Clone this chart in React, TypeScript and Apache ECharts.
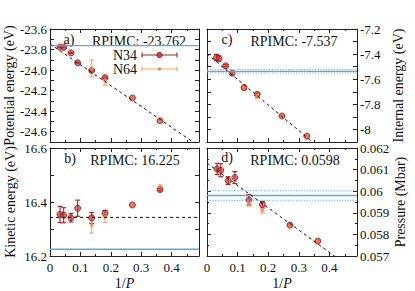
import React, { useEffect, useRef } from 'react';
import * as echarts from 'echarts';

// ---- data ----
const invP = [0.033, 0.045, 0.069, 0.091, 0.137, 0.181, 0.271, 0.362];
const invP64 = [0.137, 0.181, 0.271, 0.362];
// panel c points sit slightly further left in the reference
const invPc = [0.031, 0.039, 0.061, 0.082, 0.121, 0.164, 0.245, 0.326];
const invPc64 = [0.121, 0.164, 0.245, 0.326];

const potN34 = [-23.775, -23.779, -23.832, -23.929, -24.003, -24.074, -24.271, -24.494];
const potN34Err = [0.006, 0.006, 0.005, 0.005, 0.005, 0.005, 0.004, 0.004];
const potN64 = [-23.985, -24.1, -24.275, -24.497];
const potN64Err = [0.083, 0.047, 0.006, 0.006];
const potRef = -23.762;
const potFit = [[0, -23.745], [0.49, -24.74]];

const kinN34 = [16.354, 16.351, 16.342, 16.377, 16.341, 16.359, 16.389, 16.446];
const kinN34Err = [0.03, 0.028, 0.016, 0.03, 0.02, 0.01, 0.005, 0.005];
const kinN64 = [16.315, 16.345, 16.389, 16.458];
const kinN64Err = [0.03, 0.02, 0.005, 0.005];
const kinRef = 16.225;
const kinFit = [[0, 16.343], [0.49, 16.343]];

const intN34 = [-7.427, -7.435, -7.493, -7.552, -7.667, -7.72, -7.893, -8.053];
const intN34Err = [0.025, 0.02, 0.01, 0.015, 0.01, 0.01, 0.005, 0.005];
const intN64 = [-7.667, -7.733, -7.893, -8.053];
const intN64Err = [0.02, 0.02, 0.005, 0.005];
const intRef = -7.537;
const intRefErr = 0.013;
const intFit = [[0, -7.398], [0.49, -8.396]];

const preN34 = [0.06103, 0.06097, 0.06049, 0.06063, 0.0596, 0.05938, 0.05843, 0.05769];
const preN34Err = [0.00026, 0.0003, 0.00018, 0.00028, 0.00024, 0.00015, 0.00005, 0.00005];
const preN64 = [0.05946, 0.05912, 0.05843, 0.05768];
const preN64Err = [0.00015, 0.00013, 0.00004, 0.00004];
const preRef = 0.0598;
const preRefErr = 0.00022;
const preFit = [[0, 0.0613], [0.49, 0.056233]];

const X_MAX = 0.49;

// ---- styles ----
const FONT = 'Liberation Serif';
const TXT = '#111';
const AX = '#222';
const RED = '#a82020';
const RED_FILL = 'rgba(196,58,58,0.85)';
const ORANGE = '#f7a274';
const ORANGE_FILL = '#f28a52';
const BLUE = '#5aa6f2';

const grids = [
  { left: 50, top: 29, width: 149, height: 113 }, // a
  { left: 50, top: 148, width: 149, height: 113 }, // b
  { left: 207, top: 29, width: 150, height: 113 }, // c
  { left: 207, top: 148, width: 150, height: 113 }, // d
];

function mkX(grid: number, labeled: boolean, top: boolean) {
  return {
    type: 'value',
    gridIndex: grid,
    min: 0,
    max: X_MAX,
    interval: 0.1,
    position: top ? 'top' : 'bottom',
    axisLine: { show: true, onZero: false, lineStyle: { color: AX, width: 1 } },
    axisTick: { show: true, inside: true, length: 4, lineStyle: { color: AX } },
    minorTick: { show: true, splitNumber: 2, length: 2, lineStyle: { color: AX } },
    splitLine: { show: false },
    axisLabel: {
      show: labeled && !top,
      fontFamily: FONT,
      fontSize: 13,
      color: TXT,
      margin: 5,
      formatter: (v: number) => (v > 0.45 ? '' : String(+v.toFixed(1))),
    },
    name: labeled && !top ? '1/{i|P}' : '',
    nameLocation: 'middle',
    nameGap: 20,
    nameTextStyle: {
      fontFamily: FONT,
      fontSize: 14,
      color: TXT,
      rich: { i: { fontFamily: FONT, fontSize: 14, fontStyle: 'italic', color: TXT } },
    },
  };
}

function mkY(grid: number, side: 'left' | 'right', labeled: boolean, cfg: any) {
  return {
    type: 'value',
    gridIndex: grid,
    min: cfg.min,
    max: cfg.max,
    interval: cfg.interval,
    position: side,
    axisLine: { show: true, onZero: false, lineStyle: { color: AX, width: 1 } },
    axisTick: { show: true, inside: true, length: 4, lineStyle: { color: AX } },
    minorTick: { show: !!cfg.minor, splitNumber: 2, length: 2, lineStyle: { color: AX } },
    splitLine: { show: false },
    axisLabel: {
      show: labeled,
      fontFamily: FONT,
      fontSize: 13,
      color: TXT,
      margin: 3,
      formatter: cfg.fmt,
    },
    name: labeled ? cfg.name : '',
    nameLocation: 'middle',
    nameGap: cfg.nameGap,
    nameTextStyle: { fontFamily: FONT, fontSize: 14, color: TXT },
  };
}

const evenTenth = (digits: boolean) => (v: number) => {
  const k = Math.round(v * 10);
  if (Math.abs(k % 2) !== 0) return '';
  return digits ? v.toFixed(1) : String(+v.toFixed(1));
};

const yCfgs = [
  { min: -24.7, max: -23.6, interval: 0.1, fmt: evenTenth(true), name: 'Potential energy (eV)', nameGap: 33, side: 'left' },
  { min: 16.2, max: 16.6, interval: 0.1, fmt: evenTenth(true), name: 'Kinetic energy (eV)', nameGap: 33, side: 'left' },
  { min: -8.1, max: -7.2, interval: 0.1, fmt: evenTenth(false), name: 'Internal energy (eV)', nameGap: 34, side: 'right' },
  { min: 0.057, max: 0.062, interval: 0.001, minor: true, fmt: (v: number) => String(+v.toFixed(3)), name: 'Pressure (Mbar)', nameGap: 34, side: 'right' },
];

const errRender = (color: string) => (params: any, api: any) => {
  const x = api.value(0);
  const y = api.value(1);
  const e = api.value(2);
  const p0 = api.coord([x, y - e]);
  const p1 = api.coord([x, y + e]);
  const w = 2.5;
  const style = { stroke: color, lineWidth: 1.1 };
  return {
    type: 'group',
    children: [
      { type: 'line', shape: { x1: p0[0], y1: p0[1], x2: p1[0], y2: p1[1] }, style },
      { type: 'line', shape: { x1: p0[0] - w, y1: p0[1], x2: p0[0] + w, y2: p0[1] }, style },
      { type: 'line', shape: { x1: p1[0] - w, y1: p1[1], x2: p1[0] + w, y2: p1[1] }, style },
    ],
  };
};

function panelSeries(
  g: number,
  xs: number[],
  xs64: number[],
  n34: number[],
  n34e: number[],
  n64: number[],
  n64e: number[],
  ref: number,
  refErr: number | null,
  fit: number[][]
) {
  const ax = { xAxisIndex: 2 * g, yAxisIndex: 2 * g };
  const s: any[] = [];
  if (refErr !== null) {
    [ref + refErr, ref - refErr].forEach((v) =>
      s.push({
        type: 'line', ...ax, silent: true, symbol: 'none',
        data: [[0, v], [X_MAX, v]],
        lineStyle: { color: BLUE, width: 1, type: [1.2, 1.5] },
      })
    );
  }
  s.push({
    type: 'line', ...ax, silent: true, symbol: 'none',
    data: [[0, ref], [X_MAX, ref]],
    lineStyle: { color: BLUE, width: 1.3 },
  });
  s.push({
    type: 'line', ...ax, silent: true, symbol: 'none', clip: true,
    data: fit,
    lineStyle: { color: '#111', width: 1, type: [3, 3] },
  });
  s.push({
    type: 'custom', ...ax, silent: true, clip: true,
    renderItem: errRender(RED),
    encode: { x: 0, y: 1 },
    data: xs.map((x, i) => [x, n34[i], n34e[i]]),
  });
  s.push({
    type: 'scatter', ...ax, silent: true,
    symbol: 'circle', symbolSize: 6,
    itemStyle: { color: RED_FILL, borderColor: '#8a1515', borderWidth: 1 },
    data: xs.map((x, i) => [x, n34[i]]),
  });
  s.push({
    type: 'custom', ...ax, silent: true, clip: true,
    renderItem: errRender(ORANGE),
    encode: { x: 0, y: 1 },
    data: xs64.map((x, i) => [x, n64[i], n64e[i]]),
  });
  s.push({
    type: 'scatter', ...ax, silent: true,
    symbol: 'circle', symbolSize: 4,
    itemStyle: { color: ORANGE_FILL },
    data: xs64.map((x, i) => [x, n64[i]]),
  });
  return s;
}

const txt = (x: number, y: number, text: string, align = 'center') => ({
  type: 'text',
  x,
  y,
  style: { text, fontFamily: FONT, fontSize: 14, fill: TXT, textAlign: align, textVerticalAlign: 'middle' },
  silent: true,
});

export default function App() {
  const ref = useRef<HTMLDivElement>(null);
  useEffect(() => {
    if (!ref.current) return;
    const chart = echarts.init(ref.current, undefined, { renderer: 'svg' });
    const xAxis: any[] = [];
    const yAxis: any[] = [];
    for (let g = 0; g < 4; g++) {
      const bottomRow = g === 1 || g === 3;
      xAxis.push(mkX(g, bottomRow, false));
      xAxis.push(mkX(g, false, true));
      const c = yCfgs[g];
      const other = c.side === 'left' ? 'right' : 'left';
      yAxis.push(mkY(g, c.side as any, true, c));
      yAxis.push(mkY(g, other as any, false, c));
    }
    const series = [
      ...panelSeries(0, invP, invP64, potN34, potN34Err, potN64, potN64Err, potRef, null, potFit),
      ...panelSeries(1, invP, invP64, kinN34, kinN34Err, kinN64, kinN64Err, kinRef, null, kinFit),
      ...panelSeries(2, invPc, invPc64, intN34, intN34Err, intN64, intN64Err, intRef, intRefErr, intFit),
      ...panelSeries(3, invP, invP64, preN34, preN34Err, preN64, preN64Err, preRef, preRefErr, preFit),
    ];
    const legendLine = (y: number, color: string) => [
      { type: 'line', shape: { x1: 142, y1: y, x2: 177, y2: y }, style: { stroke: color, lineWidth: 1.1 }, silent: true },
      { type: 'line', shape: { x1: 142, y1: y - 2.5, x2: 142, y2: y + 2.5 }, style: { stroke: color, lineWidth: 1.1 }, silent: true },
      { type: 'line', shape: { x1: 177, y1: y - 2.5, x2: 177, y2: y + 2.5 }, style: { stroke: color, lineWidth: 1.1 }, silent: true },
    ];
    chart.setOption({
      animation: false,
      backgroundColor: '#fff',
      grid: grids,
      xAxis,
      yAxis,
      series,
      graphic: [
        txt(69, 39, 'a)'),
        txt(139, 41, 'RPIMC: -23.762'),
        txt(70, 158, 'b)'),
        txt(135, 160, 'RPIMC: 16.225'),
        txt(227, 39, 'c)'),
        txt(294, 41, 'RPIMC: -7.537'),
        txt(227, 157, 'd)'),
        txt(295, 160, 'RPIMC: 0.0598'),
        txt(137, 55, 'N34', 'right'),
        txt(137, 69, 'N64', 'right'),
        ...legendLine(55, RED),
        { type: 'circle', shape: { cx: 159.5, cy: 55, r: 2.6 }, style: { fill: RED_FILL, stroke: '#8a1515', lineWidth: 1 }, silent: true },
        ...legendLine(69, ORANGE),
        { type: 'circle', shape: { cx: 159.5, cy: 69, r: 1.8 }, style: { fill: ORANGE_FILL }, silent: true },
      ],
    });
    return () => chart.dispose();
  }, []);
  return (
    <div
      ref={ref}
      style={{ position: 'fixed', left: 0, top: 0, width: 415, height: 291, background: '#fff' }}
    />
  );
}
